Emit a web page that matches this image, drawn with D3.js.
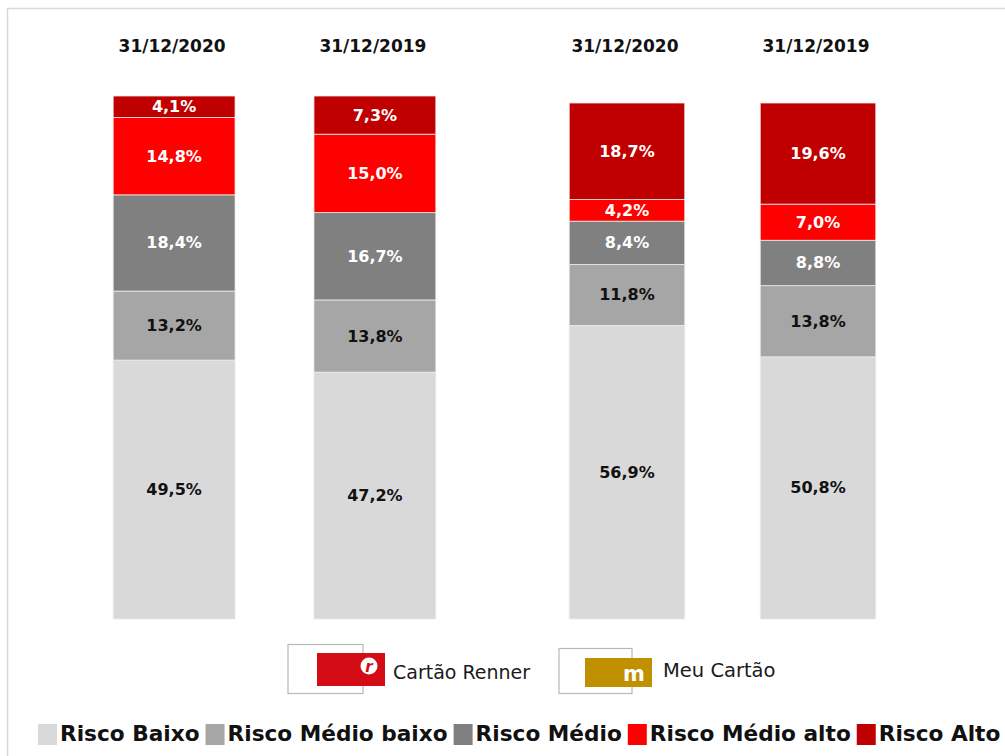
<!DOCTYPE html>
<html>
<head>
<meta charset="utf-8">
<script src="https://cdn.jsdelivr.net/npm/d3@7"></script>
<style>
  html, body { margin: 0; padding: 0; background: #fff; }
  svg { display: block; }
  text { font-family: "DejaVu Sans", "Liberation Sans", sans-serif; }
</style>
</head>
<body>
<svg id="chart" width="1005" height="756"></svg>
<script>
// Risk-profile stacked bars, Cartão Renner vs Meu Cartão, 2020 vs 2019.

const categories = ["Risco Baixo", "Risco Médio baixo", "Risco Médio", "Risco Médio alto", "Risco Alto"];
const dates = ["31/12/2020", "31/12/2019"];

// values in category order, bottom -> top
const renner2020 = [49.5, 13.2, 18.4, 14.8, 4.1];
const renner2019 = [47.2, 13.8, 16.7, 15.0, 7.3];
const meu2020    = [56.9, 11.8, 8.4, 4.2, 18.7];
const meu2019    = [50.8, 13.8, 8.8, 7.0, 19.6];

const brands = ["Cartão Renner", "Meu Cartão"];

const COLORS = ["#d9d9d9", "#a6a6a6", "#808080", "#ff0000", "#c00000"];
const LABEL_COLORS = ["#111", "#111", "#fff", "#fff", "#fff"];

const svg = d3.select("#chart");

// frame (only left/top edges are visible in the crop)
svg.append("rect")
  .attr("x", 7.5).attr("y", 8.5)
  .attr("width", 1020).attr("height", 760)
  .attr("fill", "none")
  .attr("stroke", "#d9d9d9")
  .attr("stroke-width", 1.5);

const color = d3.scaleOrdinal().domain(categories).range(COLORS);
const labelColor = d3.scaleOrdinal().domain(categories).range(LABEL_COLORS);

// two groups, each with its own band scale (spacing differs slightly in the source)
const groups = [
  { brand: brands[0], values: [renner2020, renner2019],
    x: d3.scaleBand().domain(dates).range([73, 476]).paddingInner(0.393).paddingOuter(0.2),
    y: d3.scaleLinear().domain([0, 100]).range([619, 96]) },
  { brand: brands[1], values: [meu2020, meu2019],
    x: d3.scaleBand().domain(dates).range([531, 914]).paddingInner(0.395).paddingOuter(0.2),
    y: d3.scaleLinear().domain([0, 100]).range([619, 103]) }
];

const stack = d3.stack().keys(d3.range(categories.length));

groups.forEach(function (g) {
  const rows = dates.map(function (d, i) {
    const r = { date: d };
    g.values[i].forEach(function (v, k) { r[k] = v; });
    return r;
  });
  const series = stack(rows);

  const gEl = svg.append("g");

  series.forEach(function (s) {
    const cat = categories[s.key];
    const layer = gEl.append("g");
    layer.selectAll("rect")
      .data(s)
      .join("rect")
      .attr("x", d => g.x(d.data.date))
      .attr("width", g.x.bandwidth())
      .attr("y", d => g.y(d[1]))
      .attr("height", d => g.y(d[0]) - g.y(d[1]))
      .attr("fill", color(cat))
      .attr("stroke", "#ececec")
      .attr("stroke-width", 0.8);

    layer.selectAll("text")
      .data(s)
      .join("text")
      .attr("x", d => g.x(d.data.date) + g.x.bandwidth() / 2)
      .attr("y", d => (g.y(d[0]) + g.y(d[1])) / 2)
      .attr("text-anchor", "middle")
      .attr("dominant-baseline", "central")
      .attr("font-size", 16)
      .attr("font-weight", "bold")
      .attr("fill", labelColor(cat))
      .text(d => d3.format(".1f")(d[1] - d[0]).replace(".", ",") + "%");
  });

  // date headers
  gEl.selectAll("text.date")
    .data(dates)
    .join("text")
    .attr("class", "date")
    .attr("x", d => g.x(d) + g.x.bandwidth() / 2 - 2)
    .attr("y", 52)
    .attr("text-anchor", "middle")
    .attr("font-size", 17)
    .attr("font-weight", "bold")
    .attr("fill", "#111")
    .text(d => d);
});

// brand legend (card logos)
const brandLegend = svg.append("g");

// Cartão Renner
const rl = brandLegend.append("g");
rl.append("rect").attr("x", 288).attr("y", 644.5).attr("width", 75).attr("height", 49)
  .attr("fill", "none").attr("stroke", "#b8b8b8").attr("stroke-width", 1.2);
rl.append("rect").attr("x", 317).attr("y", 653).attr("width", 68).attr("height", 33)
  .attr("fill", "#d30c16");
rl.append("circle").attr("cx", 369).attr("cy", 666).attr("r", 8.5).attr("fill", "#fff");
rl.append("text").attr("x", 369).attr("y", 671.5).attr("text-anchor", "middle")
  .attr("font-size", 15).attr("font-weight", "bold").attr("font-style", "italic")
  .attr("fill", "#d30c16").text("r");
rl.append("text").attr("x", 393).attr("y", 679)
  .attr("font-size", 19).attr("fill", "#1a1a1a").text(brands[0]);

// Meu Cartão
const ml = brandLegend.append("g");
ml.append("rect").attr("x", 559).attr("y", 648.5).attr("width", 73).attr("height", 45)
  .attr("fill", "none").attr("stroke", "#b8b8b8").attr("stroke-width", 1.2);
ml.append("rect").attr("x", 585).attr("y", 658).attr("width", 67).attr("height", 29)
  .attr("fill", "#c09000");
ml.append("text").attr("x", 634).attr("y", 681).attr("text-anchor", "middle")
  .attr("font-size", 21).attr("font-weight", "bold").attr("fill", "#fff").text("m");
ml.append("text").attr("x", 663).attr("y", 677)
  .attr("font-size", 19.5).attr("fill", "#1a1a1a").text(brands[1]);

// risk legend along the bottom, fitted to the available width
const legend = svg.append("g");
const SQ = 19, GAP_IN = 3, GAP_OUT = 6;
const LX0 = 38, LX1 = 1001;
let fs = 20;
const items = legend.selectAll("g.item")
  .data(categories)
  .join("g")
  .attr("class", "item");
items.append("rect")
  .attr("width", SQ).attr("height", 21)
  .attr("y", 724)
  .attr("fill", d => color(d));
const texts = items.append("text")
  .attr("y", 741)
  .attr("font-size", fs)
  .attr("font-weight", "bold")
  .attr("fill", "#111")
  .text(d => d);

let widths = texts.nodes().map(n => n.getComputedTextLength());
const fixed = categories.length * (SQ + GAP_IN) + (categories.length - 1) * GAP_OUT;
const k = (LX1 - LX0 - fixed) / d3.sum(widths);
fs = fs * k;
texts.attr("font-size", fs);
widths = texts.nodes().map(n => n.getComputedTextLength());

let cx = LX0;
items.each(function (d, i) {
  const it = d3.select(this);
  it.select("rect").attr("x", cx);
  it.select("text").attr("x", cx + SQ + GAP_IN);
  cx += SQ + GAP_IN + widths[i] + GAP_OUT;
});
</script>
</body>
</html>
